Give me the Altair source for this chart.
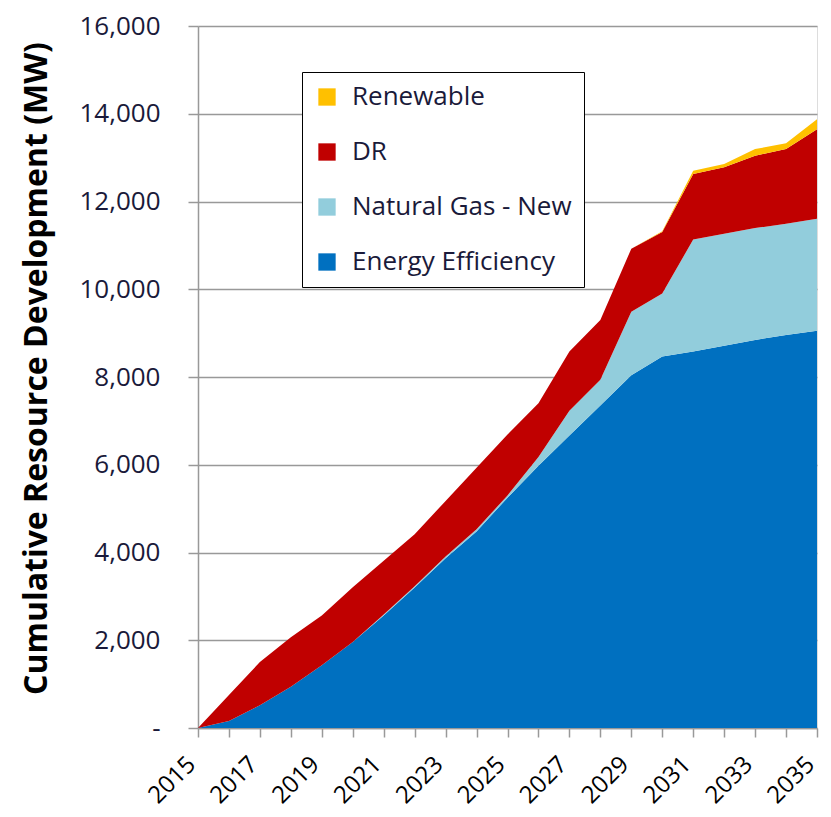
import altair as alt
import pandas as pd

years = list(range(2015, 2036))
energy_efficiency = [0, 160, 520, 940, 1430, 1960, 2565, 3200, 3870, 4480, 5250,
                     5976, 6665, 7353, 8042, 8466, 8579, 8715, 8845, 8958, 9056]
natural_gas_new = [0, 0, 0, 0, 0, 0, 20, 30, 40, 50, 50,
                   200, 567, 584, 1445, 1436, 2554, 2550, 2549, 2534, 2550]
dr = [0, 590, 985, 1130, 1135, 1247, 1228, 1188, 1265, 1400, 1388,
      1226, 1347, 1361, 1437, 1401, 1493, 1513, 1649, 1702, 2042]
renewable = [0, 0, 0, 0, 0, 0, 0, 0, 0, 0, 0,
             0, 0, 0, 0, 20, 77, 75, 151, 136, 226]

series_names = ["Renewable", "DR", "Natural Gas - New", "Energy Efficiency"]
series_colors = ["#FFC000", "#C00000", "#92CDDC", "#0070C0"]
stack_order = {"Energy Efficiency": 0, "Natural Gas - New": 1, "DR": 2, "Renewable": 3}

rows = []
for name, vals in [("Energy Efficiency", energy_efficiency),
                   ("Natural Gas - New", natural_gas_new),
                   ("DR", dr),
                   ("Renewable", renewable)]:
    for y, v in zip(years, vals):
        rows.append({"year": y, "series": name, "value": v, "ord": stack_order[name]})
df = pd.DataFrame(rows)

font = "Open Sans"
txt = "#1a1a3a"

chart = alt.Chart(df).mark_area(interpolate="linear").encode(
    x=alt.X("year:Q",
            scale=alt.Scale(domain=[2015, 2035], nice=False, zero=False),
            axis=alt.Axis(values=years, format="d",
                          labelExpr="datum.value % 2 == 1 ? datum.value : ''",
                          labelAngle=-45, labelFontSize=24, labelFont=font,
                          labelColor="#000000", labelPadding=15, labelOffset=-15,
                          tickSize=9, tickColor="#999999", domainColor="#999999",
                          domainWidth=1.5, tickWidth=1.5, grid=False, title=None,
                          labelOverlap=False, labelFlush=False, labelBound=False)),
    y=alt.Y("value:Q", stack="zero",
            scale=alt.Scale(domain=[0, 16000], nice=False),
            axis=alt.Axis(values=list(range(0, 16001, 2000)),
                          labelExpr="datum.value == 0 ? '-' : format(datum.value, ',')",
                          labelFontSize=26, labelFont=font, labelColor=txt,
                          labelPadding=28, tickSize=10, tickColor="#999999",
                          domainColor="#999999", domainWidth=1.5, tickWidth=1.5,
                          grid=True, gridColor="#999999", gridWidth=1.5,
                          title="Cumulative Resource Development (MW)",
                          titleFont=font, titleFontSize=32, titleFontWeight="bold",
                          titleColor="#000000", titleX=-162, titleY=342,
                          titleAngle=-90, titleAlign="center", titleBaseline="middle")),
    color=alt.Color("series:N",
                    scale=alt.Scale(domain=series_names, range=series_colors),
                    legend=alt.Legend(title=None, orient="none", legendX=104, legendY=46,
                                      symbolType="square", symbolSize=300,
                                      symbolStrokeWidth=0,
                                      labelFont=font, labelFontSize=26, labelColor=txt,
                                      rowPadding=29, padding=12, offset=0,
                                      labelOffset=12,
                                      strokeColor="#000000", fillColor="#ffffff",
                                      labelLimit=400)),
    order=alt.Order("ord:Q", sort="ascending"),
).properties(
    width=619, height=702,
    autosize=alt.AutoSizeParams(type="none"),
    padding={"left": 190, "top": 18, "right": 6, "bottom": 88},
).configure_view(stroke=None).configure(background="#ffffff")

chart.save("out.html", embed_options={"renderer": "svg", "actions": False})
